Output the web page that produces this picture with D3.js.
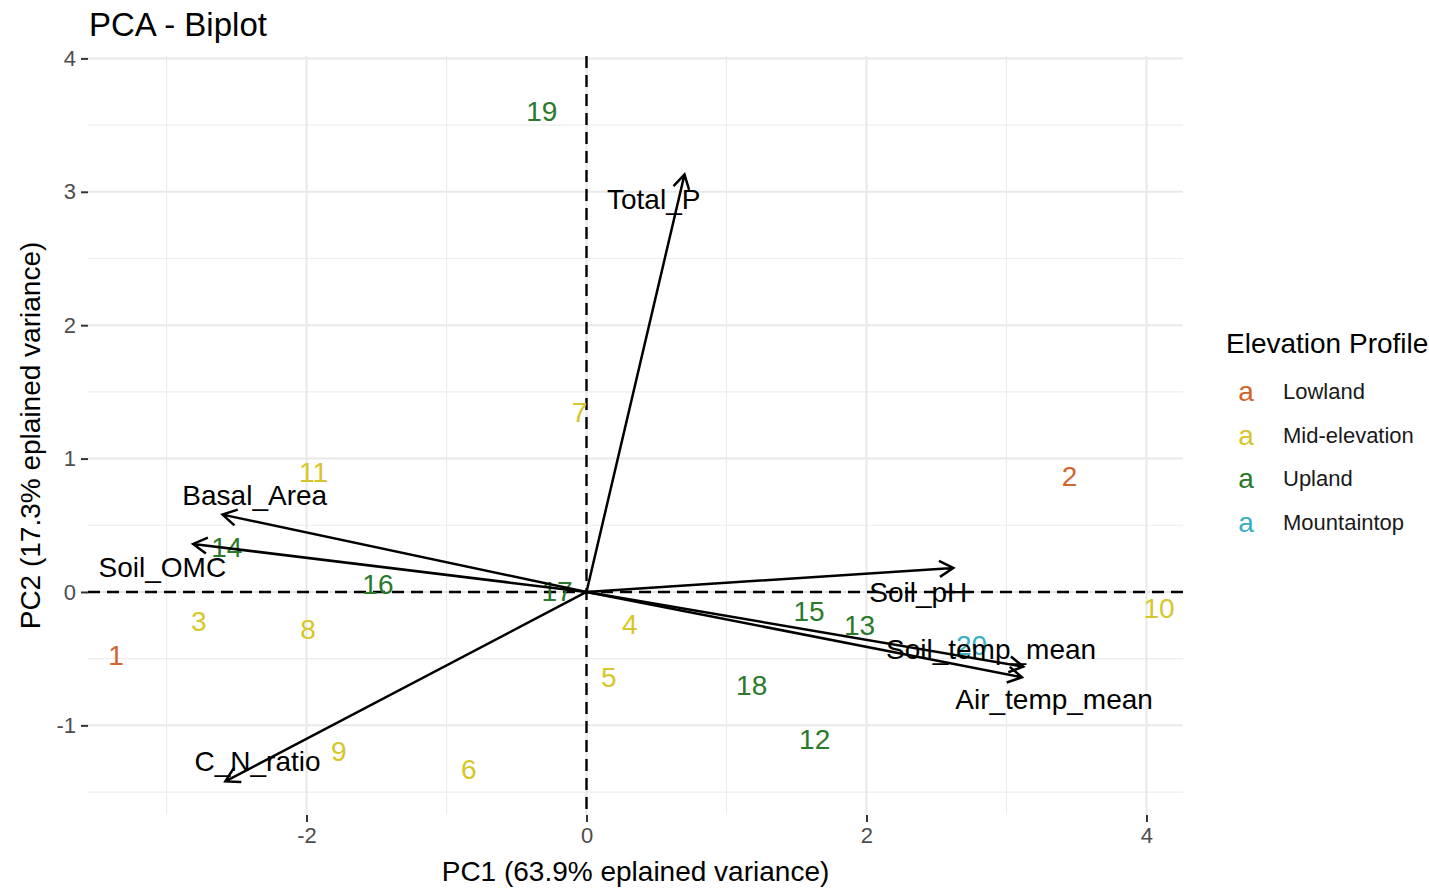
<!DOCTYPE html>
<html>
<head>
<meta charset="utf-8">
<script src="https://cdn.jsdelivr.net/npm/d3@7"></script>
<style>
    body { margin: 0; background: #fff; }
    svg { display: block; font-family: "Liberation Sans", Arial, sans-serif; }
</style>
</head>
<body>
<div id="chart"></div>
<script>
// Declare data.
const SITE_IDS = ['1', '2', '3', '4', '5', '6', '7', '8', '9', '10',
    '11', '12', '13', '14', '15', '16', '17', '18', '19', '20'];
const SITE_PC1 = [-3.36, 3.45, -2.77, 0.31, 0.16, -0.84, -0.05, -1.99, -1.77, 4.09,
    -1.95, 1.63, 1.95, -2.57, 1.59, -1.49, -0.21, 1.18, -0.32, 2.75];
const SITE_PC2 = [-0.47, 0.87, -0.22, -0.24, -0.64, -1.33, 1.35, -0.28, -1.19, -0.12,
    0.90, -1.10, -0.25, 0.34, -0.14, 0.06, 0.01, -0.70, 3.61, -0.40];
const SITE_GROUP = ['Lowland', 'Lowland', 'Mid-elevation', 'Mid-elevation', 'Mid-elevation',
    'Mid-elevation', 'Mid-elevation', 'Mid-elevation', 'Mid-elevation', 'Mid-elevation',
    'Mid-elevation', 'Upland', 'Upland', 'Upland', 'Upland', 'Upland', 'Upland', 'Upland',
    'Upland', 'Mountaintop'];

const VARIABLES = ['Total_P', 'Basal_Area', 'Soil_OMC', 'C_N_ratio', 'Soil_pH', 'Soil_temp_mean', 'Air_temp_mean'];
const LOAD_PC1 = [0.70, -2.60, -2.81, -2.58, 2.62, 3.12, 3.11];
const LOAD_PC2 = [3.13, 0.58, 0.36, -1.42, 0.18, -0.56, -0.64];
const LABEL_PC1 = [0.48, -2.37, -3.03, -2.35, 2.37, 2.89, 3.34];
const LABEL_PC2 = [2.95, 0.73, 0.19, -1.27, 0.00, -0.43, -0.80];

const GROUPS = ['Lowland', 'Mid-elevation', 'Upland', 'Mountaintop'];
const GROUP_COLORS = ['#d2642e', '#d6c62a', '#2b7a2b', '#3aafbf'];

const X_TICKS = [-2, 0, 2, 4];
const X_MINOR = [-3, -1, 1, 3];
const Y_TICKS = [-1, 0, 1, 2, 3, 4];
const Y_MINOR = [-1.5, -0.5, 0.5, 1.5, 2.5, 3.5];

const config = {
    width: 1429,
    height: 888,
    panel: {left: 88, right: 1183, top: 56, bottom: 815},
    labelSize: '28px'
};

const svg = d3.select('#chart').append('svg')
    .attr('width', config.width)
    .attr('height', config.height);

const xScale = d3.scaleLinear().domain([-3.561, 4.261]).range([config.panel.left, config.panel.right]);
const yScale = d3.scaleLinear().domain([-1.672, 4.018]).range([config.panel.bottom, config.panel.top]);
const color = d3.scaleOrdinal().domain(GROUPS).range(GROUP_COLORS);

// Grid lines (minor first, then major).
const grid = svg.append('g').attr('class', 'grid');
grid.selectAll('.vminor').data(X_MINOR).join('line')
    .attr('x1', d => xScale(d)).attr('x2', d => xScale(d))
    .attr('y1', config.panel.top).attr('y2', config.panel.bottom)
    .attr('stroke', '#ededed').attr('stroke-width', 1.2);
grid.selectAll('.hminor').data(Y_MINOR).join('line')
    .attr('y1', d => yScale(d)).attr('y2', d => yScale(d))
    .attr('x1', config.panel.left).attr('x2', config.panel.right)
    .attr('stroke', '#ededed').attr('stroke-width', 1.2);
grid.selectAll('.vmajor').data(X_TICKS).join('line')
    .attr('x1', d => xScale(d)).attr('x2', d => xScale(d))
    .attr('y1', config.panel.top).attr('y2', config.panel.bottom)
    .attr('stroke', '#e8e8e8').attr('stroke-width', 2);
grid.selectAll('.hmajor').data(Y_TICKS).join('line')
    .attr('y1', d => yScale(d)).attr('y2', d => yScale(d))
    .attr('x1', config.panel.left).attr('x2', config.panel.right)
    .attr('stroke', '#e8e8e8').attr('stroke-width', 2);

// Axes.
const xAxis = d3.axisBottom(xScale).tickValues(X_TICKS).tickSize(7).tickPadding(5)
    .tickFormat(d => d < 0 ? '-' + Math.abs(d) : d);
const yAxis = d3.axisLeft(yScale).tickValues(Y_TICKS).tickSize(7).tickPadding(5)
    .tickFormat(d => d < 0 ? '-' + Math.abs(d) : d);

svg.append('g')
    .attr('transform', `translate(0,${config.panel.bottom})`)
    .call(xAxis)
    .call(g => g.select('.domain').remove())
    .call(g => g.selectAll('line').attr('stroke', '#333').attr('stroke-width', 2))
    .call(g => g.selectAll('text').attr('fill', '#4d4d4d').style('font-size', '22px')
        .style('font-family', '"Liberation Sans", Arial, sans-serif'));

svg.append('g')
    .attr('transform', `translate(${config.panel.left},0)`)
    .call(yAxis)
    .call(g => g.select('.domain').remove())
    .call(g => g.selectAll('line').attr('stroke', '#333').attr('stroke-width', 2))
    .call(g => g.selectAll('text').attr('fill', '#4d4d4d').style('font-size', '22px')
        .style('font-family', '"Liberation Sans", Arial, sans-serif'));

// Dashed reference lines through the origin.
svg.append('line')
    .attr('x1', config.panel.left).attr('x2', config.panel.right)
    .attr('y1', yScale(0)).attr('y2', yScale(0))
    .attr('stroke', '#000').attr('stroke-width', 2.4).attr('stroke-dasharray', '12,7');
svg.append('line')
    .attr('x1', xScale(0)).attr('x2', xScale(0))
    .attr('y1', config.panel.top).attr('y2', config.panel.bottom)
    .attr('stroke', '#000').attr('stroke-width', 2.4).attr('stroke-dasharray', '12,7');

// Site labels.
const sites = SITE_IDS.map((id, i) => ({id, x: SITE_PC1[i], y: SITE_PC2[i], group: SITE_GROUP[i]}));
svg.append('g').selectAll('text').data(sites).join('text')
    .attr('x', d => xScale(d.x))
    .attr('y', d => yScale(d.y))
    .attr('dy', '0.36em')
    .attr('text-anchor', 'middle')
    .attr('fill', d => color(d.group))
    .style('font-size', config.labelSize)
    .text(d => d.id);

// Loading arrows.
const loads = VARIABLES.map((name, i) => ({
    name, x: LOAD_PC1[i], y: LOAD_PC2[i], lx: LABEL_PC1[i], ly: LABEL_PC2[i]
}));
const headLen = 16;
const headAngle = Math.PI / 6;
const arrowPath = d => {
    const x0 = xScale(0), y0 = yScale(0);
    const x1 = xScale(d.x), y1 = yScale(d.y);
    const a = Math.atan2(y1 - y0, x1 - x0);
    const p = d3.path();
    p.moveTo(x0, y0);
    p.lineTo(x1, y1);
    p.moveTo(x1 - headLen * Math.cos(a - headAngle), y1 - headLen * Math.sin(a - headAngle));
    p.lineTo(x1, y1);
    p.lineTo(x1 - headLen * Math.cos(a + headAngle), y1 - headLen * Math.sin(a + headAngle));
    return p.toString();
};
svg.append('g').selectAll('path').data(loads).join('path')
    .attr('d', arrowPath)
    .attr('fill', 'none')
    .attr('stroke', '#000')
    .attr('stroke-width', 2.5);

svg.append('g').selectAll('text').data(loads).join('text')
    .attr('x', d => xScale(d.lx))
    .attr('y', d => yScale(d.ly))
    .attr('dy', '0.36em')
    .attr('text-anchor', 'middle')
    .attr('fill', '#000')
    .style('font-size', config.labelSize)
    .text(d => d.name);

// Titles.
svg.append('text')
    .attr('x', 89).attr('y', 36)
    .style('font-size', '33px')
    .text('PCA - Biplot');

svg.append('text')
    .attr('x', (config.panel.left + config.panel.right) / 2)
    .attr('y', 881)
    .attr('text-anchor', 'middle')
    .style('font-size', '28px')
    .text('PC1 (63.9% eplained variance)');

svg.append('text')
    .attr('transform', `translate(40,${(config.panel.top + config.panel.bottom) / 2}) rotate(-90)`)
    .attr('text-anchor', 'middle')
    .style('font-size', '28px')
    .text('PC2 (17.3% eplained variance)');

// Legend.
const legend = svg.append('g').attr('transform', 'translate(1226,0)');
legend.append('text')
    .attr('x', 0).attr('y', 353)
    .style('font-size', '28px')
    .text('Elevation Profile');
const rows = legend.selectAll('.row').data(GROUPS).join('g')
    .attr('class', 'row')
    .attr('transform', (_, i) => `translate(0,${391 + i * 43.7})`);
rows.append('text')
    .attr('x', 20).attr('dy', '0.36em')
    .attr('text-anchor', 'middle')
    .attr('fill', d => color(d))
    .style('font-size', '28px')
    .text('a');
rows.append('text')
    .attr('x', 57).attr('dy', '0.36em')
    .attr('fill', '#1a1a1a')
    .style('font-size', '22px')
    .text(d => d);
</script>
</body>
</html>
